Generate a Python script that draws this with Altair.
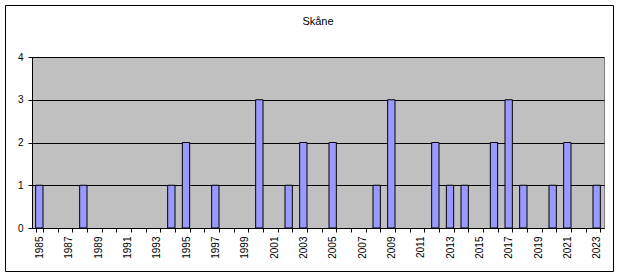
import altair as alt
import pandas as pd

years = list(range(1985, 2024))
counts = [1, 0, 0, 1, 0, 0, 0, 0, 0, 1, 2, 0, 1, 0, 0, 3, 0, 1, 2, 0,
          2, 0, 0, 1, 3, 0, 0, 2, 1, 1, 0, 2, 3, 1, 0, 1, 2, 0, 1]
y_ticks = [0, 1, 2, 3, 4]
title_text = "Skåne"

df = pd.DataFrame({"year": years, "count": counts})
df = df[df["count"] > 0]

FONT = "Liberation Sans"

bars = alt.Chart(df).mark_bar(
    fill="#9999FF", stroke="#000000", strokeWidth=1
).encode(
    x=alt.X(
        "year:O",
        scale=alt.Scale(domain=years, paddingInner=0.5, paddingOuter=0.25),
        axis=alt.Axis(
            title=None,
            labelAngle=-90,
            labelAlign="right",
            labelBaseline="middle",
            labelExpr="datum.value % 2 == 1 ? datum.label : ''",
            labelFont=FONT,
            labelFontSize=10,
            labelColor="#000000",
            labelPadding=4,
            labelOverlap=False,
            tickBand="extent",
            tickSize=4,
            tickColor="#000000",
            domainColor="#000000",
            grid=False,
        ),
    ),
    y=alt.Y(
        "count:Q",
        scale=alt.Scale(domain=[0, 4], nice=False),
        axis=alt.Axis(
            title=None,
            values=y_ticks,
            labelFont=FONT,
            labelFontSize=10,
            labelColor="#000000",
            labelPadding=5,
            tickSize=4,
            tickColor="#000000",
            domainColor="#000000",
            grid=True,
            gridColor="#000000",
            gridWidth=1,
            gridOpacity=1,
        ),
    ),
)

frame = alt.Chart(alt.Data(values=[{}])).mark_rect(
    fill=None, stroke="#000000", strokeWidth=1, clip=False
).encode(
    x=alt.value(-26.5), x2=alt.value(581.5),
    y=alt.value(-51.5), y2=alt.value(214.5),
)

chart = alt.layer(bars, frame).properties(
    width=572,
    height=171,
    title=alt.TitleParams(
        title_text, font=FONT, fontSize=11, fontWeight="normal",
        color="#000000", anchor="middle", offset=-22,
    ),
    autosize=alt.AutoSizeParams(type="none"),
    padding={"left": 32, "top": 57, "right": 16, "bottom": 50},
).configure(background="#FFFFFF").configure_view(
    fill="#C0C0C0", stroke="#808080", strokeWidth=1
)

chart.save("out.html", embed_options={"renderer": "svg", "actions": False})
